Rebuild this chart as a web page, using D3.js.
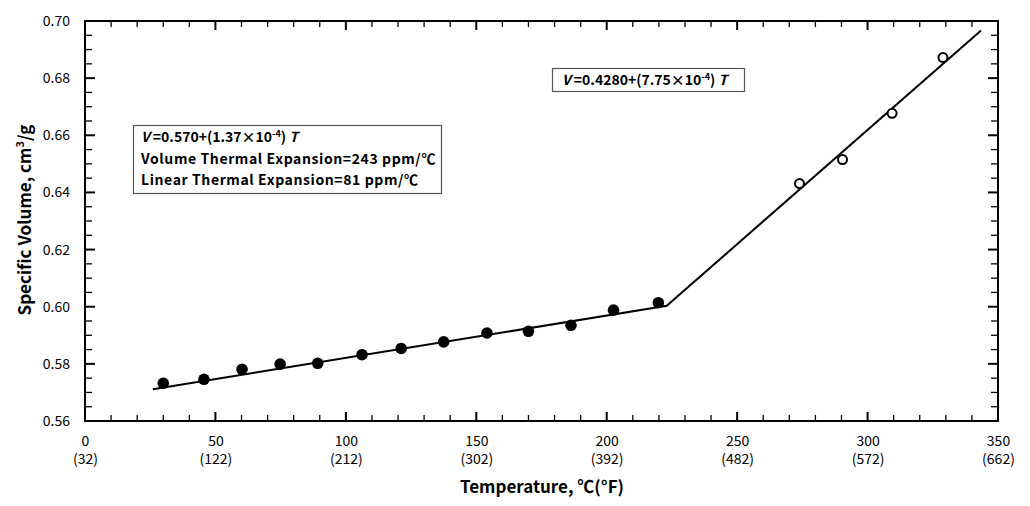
<!DOCTYPE html>
<html><head><meta charset="utf-8">
<script src="https://cdn.jsdelivr.net/npm/d3@7"></script>
<style>
html,body{margin:0;padding:0;background:#fff;}
svg{display:block;}
</style></head>
<body>
<svg id="chart" width="1030" height="506"></svg>
<script>
// ---- data ----
const solidT = [30, 45.6, 60.2, 74.8, 89.2, 106.2, 121.2, 137.5, 154.1, 170.0, 186.3, 202.6, 219.8];
const solidV = [0.5732, 0.5746, 0.5781, 0.5799, 0.5802, 0.5832, 0.5854, 0.5877, 0.5908, 0.5914, 0.5935, 0.5988, 0.6014];
const openT = [273.9, 290.4, 309.4, 328.9];
const openV = [0.6431, 0.6515, 0.6677, 0.6872];
const fitT = [26, 223, 343.5];
const fitV = [0.5711, 0.6003, 0.6967];
const xTicks = [0, 50, 100, 150, 200, 250, 300, 350];
const xTickF = ["(32)", "(122)", "(212)", "(302)", "(392)", "(482)", "(572)", "(662)"];
const yTicks = [0.56, 0.58, 0.60, 0.62, 0.64, 0.66, 0.68, 0.70];
const box1Lines = ["Volume Thermal Expansion=243 ppm/℃", "Linear Thermal Expansion=81 ppm/℃"];

const svg = d3.select("#chart");
const FONT = "'Noto Sans CJK JP','Noto Sans',sans-serif";
const L = 85, R = 998, T = 21, B = 421;
const x = d3.scaleLinear().domain([0, 350]).range([L, R]);
const y = d3.scaleLinear().domain([0.56, 0.70]).range([B, T]);

const g = svg.append("g");

// minor / major ticks (inward) on all four sides
const xMinor = d3.range(0, 351, 10);
const yMinor = d3.range(0, 29).map(i => 0.56 + i * 0.005);
const isMajX = v => Math.abs(v % 50) < 1e-6;
const isMajY = v => Math.abs(Math.round(v * 100) - v * 100) < 1e-6 && Math.round(v * 100) % 2 === 0;

const tk = g.append("g").attr("stroke", "#000");
xMinor.forEach(v => {
  const maj = isMajX(v), len = maj ? 9 : 6;
  tk.append("line").attr("x1", x(v)).attr("x2", x(v)).attr("y1", B).attr("y2", B - len)
    .attr("stroke-width", maj ? 2 : 1.3);
  tk.append("line").attr("x1", x(v)).attr("x2", x(v)).attr("y1", T).attr("y2", T + len)
    .attr("stroke-width", maj ? 2 : 1.3);
});
yMinor.forEach(v => {
  const maj = isMajY(v), len = maj ? 10 : 7;
  tk.append("line").attr("x1", L).attr("x2", L + len).attr("y1", y(v)).attr("y2", y(v))
    .attr("stroke-width", maj ? 2 : 1.3);
  tk.append("line").attr("x1", R).attr("x2", R - len).attr("y1", y(v)).attr("y2", y(v))
    .attr("stroke-width", maj ? 2 : 1.3);
});

// frame
g.append("rect").attr("x", L).attr("y", T).attr("width", R - L).attr("height", B - T)
  .attr("fill", "none").attr("stroke", "#000").attr("stroke-width", 2);

// tick labels via d3 axes (text only)
const xAx = g.append("g").attr("transform", `translate(0,${B})`)
  .call(d3.axisBottom(x).tickValues(xTicks).tickSize(0).tickFormat(d3.format("d")));
xAx.select(".domain").remove();
xAx.selectAll(".tick text").attr("y", 25).attr("dy", null)
  .attr("font-family", FONT).attr("font-size", 14).attr("fill", "#000");
xAx.selectAll(".tick").append("text").text((d, i) => xTickF[i])
  .attr("y", 43).attr("fill", "#000").attr("font-family", FONT).attr("font-size", 14);

const yAx = g.append("g").attr("transform", `translate(${L},0)`)
  .call(d3.axisLeft(y).tickValues(yTicks).tickSize(0).tickPadding(15).tickFormat(d3.format(".2f")));
yAx.select(".domain").remove();
yAx.selectAll("text").attr("font-family", FONT).attr("font-size", 14).attr("fill", "#000");

// fit line
const line = d3.line().x(d => x(d[0])).y(d => y(d[1]));
g.append("path").datum(fitT.map((t, i) => [t, fitV[i]])).attr("d", line)
  .attr("fill", "none").attr("stroke", "#000").attr("stroke-width", 2);

// points
g.selectAll("circle.s").data(solidT.map((t, i) => [t, solidV[i]])).enter().append("circle")
  .attr("cx", d => x(d[0])).attr("cy", d => y(d[1])).attr("r", 5.8).attr("fill", "#000");
g.selectAll("circle.o").data(openT.map((t, i) => [t, openV[i]])).enter().append("circle")
  .attr("cx", d => x(d[0])).attr("cy", d => y(d[1])).attr("r", 4.5)
  .attr("fill", "#fff").attr("stroke", "#000").attr("stroke-width", 2);

// axis titles
svg.append("text").attr("x", 542).attr("y", 493).attr("text-anchor", "middle")
  .attr("font-family", FONT).attr("font-size", 17).attr("font-weight", "bold").text("Temperature, ℃(°F)");
const yt = svg.append("text").attr("transform", "translate(31,220) rotate(-90)").attr("text-anchor", "middle")
  .attr("font-family", FONT).attr("font-size", 17).attr("font-weight", "bold");
yt.append("tspan").text("Specific Volume, cm");
yt.append("tspan").attr("font-size", 11).attr("dy", -7).text("3");
yt.append("tspan").attr("dy", 7).text("/g");

// equation helper
function equation(sel, xx, yy, a, b) {
  const t = sel.append("text").attr("x", xx).attr("y", yy).attr("font-family", FONT)
    .attr("font-size", 14).attr("font-weight", "bold").attr("fill", "#000");
  t.append("tspan").attr("font-style", "italic").text("V");
  t.append("tspan").text(" =" + a + "+(" + b + "×10");
  t.append("tspan").attr("font-size", 9).attr("dy", -5).text("-4");
  t.append("tspan").attr("dy", 5).text(") ");
  t.append("tspan").attr("font-style", "italic").text("T");
}

// box 1
svg.append("rect").attr("x", 133.5).attr("y", 125.5).attr("width", 308).attr("height", 68)
  .attr("fill", "#fff").attr("stroke", "#555").attr("stroke-width", 1.2);
equation(svg, 141, 142, "0.570", "1.37");
box1Lines.forEach((s, i) => {
  svg.append("text").attr("x", 141).attr("y", 164 + i * 21).attr("font-family", FONT)
    .attr("font-size", 14).attr("font-weight", "bold").attr("letter-spacing", 0.6).text(s);
});

// box 2
svg.append("rect").attr("x", 552.5).attr("y", 68.5).attr("width", 192).attr("height", 23)
  .attr("fill", "#fff").attr("stroke", "#555").attr("stroke-width", 1.2);
equation(svg, 562, 85, "0.4280", "7.75");
</script>
</body></html>
